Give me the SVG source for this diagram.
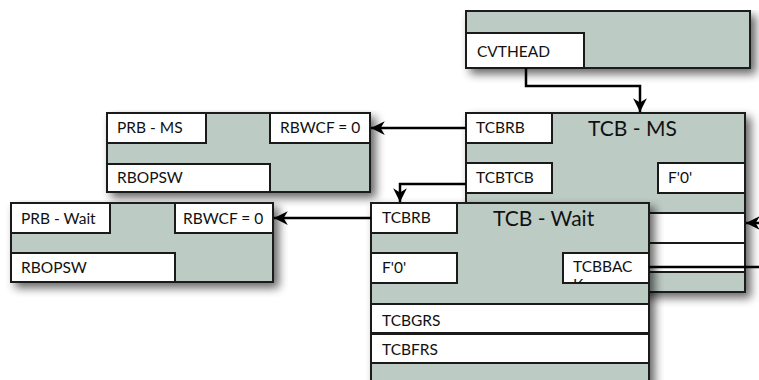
<svg xmlns="http://www.w3.org/2000/svg" width="759" height="380" viewBox="0 0 759 380">
<defs>
  <filter id="sh" x="-10%" y="-10%" width="130%" height="140%">
    <feGaussianBlur in="SourceAlpha" stdDeviation="5"/>
    <feOffset dx="5" dy="5" result="b"/>
    <feComponentTransfer><feFuncA type="linear" slope="0.6"/></feComponentTransfer>
    <feMerge><feMergeNode/><feMergeNode in="SourceGraphic"/></feMerge>
  </filter>
  <marker id="ah" viewBox="0 0 10 10" refX="10" refY="5" markerWidth="5.5" markerHeight="5.5" orient="auto" markerUnits="strokeWidth">
    <path d="M0,0 L10,5 L0,10 L3,5 Z" fill="#000"/>
  </marker>
  <clipPath id="clipBac"><rect x="563" y="253" width="86" height="30"/></clipPath>
  <style>
    .outer{fill:#bdcbc5;stroke:#1a1a1a;stroke-width:2}
    .cell{fill:#ffffff;stroke:#1a1a1a;stroke-width:2}
    .lbl{font-family:"Lato","Open Sans","Liberation Sans",sans-serif;font-size:15.5px;fill:#111}
    .ttl{font-family:"Lato","Open Sans","Liberation Sans",sans-serif;font-size:21px;fill:#111}
    .con{fill:none;stroke:#000;stroke-width:2.5}
  </style>
</defs>
<rect width="759" height="380" fill="#ffffff"/>

<g id="cvthead">
  <rect class="outer" x="466" y="11" width="284" height="57" filter="url(#sh)"/>
  <rect class="cell" x="466" y="33" width="118" height="35"/>
  <text class="lbl" x="477" y="57">CVTHEAD</text>
</g>

<g id="prb-ms">
  <rect class="outer" x="107" y="113" width="263" height="79" filter="url(#sh)"/>
  <rect class="cell" x="107" y="113" width="99" height="30"/>
  <text class="lbl" x="117" y="133">PRB - MS</text>
  <rect class="cell" x="270" y="113" width="100" height="30"/>
  <text class="lbl" x="280" y="133">RBWCF = 0</text>
  <rect class="cell" x="107" y="164" width="163" height="28"/>
  <text class="lbl" x="117" y="183">RBOPSW</text>
</g>

<g id="tcb-ms">
  <rect class="outer" x="466" y="113" width="279" height="179" filter="url(#sh)"/>
  <rect class="cell" x="466" y="113" width="86" height="30"/>
  <text class="lbl" x="476" y="133">TCBRB</text>
  <text class="ttl" x="588" y="136">TCB - MS</text>
  <rect class="cell" x="466" y="163" width="86" height="30"/>
  <text class="lbl" x="476" y="183">TCBTCB</text>
  <rect class="cell" x="658" y="163" width="87" height="30"/>
  <text class="lbl" x="668" y="183">F'0'</text>
  <rect class="cell" x="466" y="213" width="279" height="30"/>
  <rect class="cell" x="466" y="243" width="279" height="29"/>
</g>

<g id="prb-wait">
  <rect class="outer" x="11" y="203" width="262" height="79" filter="url(#sh)"/>
  <rect class="cell" x="11" y="203" width="99" height="30"/>
  <text class="lbl" x="21" y="224">PRB - Wait</text>
  <rect class="cell" x="175" y="203" width="98" height="30"/>
  <text class="lbl" x="183" y="224">RBWCF = 0</text>
  <rect class="cell" x="11" y="253" width="164" height="29"/>
  <text class="lbl" x="21" y="273">RBOPSW</text>
</g>

<g id="tcb-wait">
  <rect class="outer" x="371" y="203" width="278" height="190" filter="url(#sh)"/>
  <rect class="cell" x="371" y="203" width="86" height="30"/>
  <text class="lbl" x="382" y="223">TCBRB</text>
  <text class="ttl" x="493" y="226">TCB - Wait</text>
  <rect class="cell" x="371" y="253" width="86" height="30"/>
  <text class="lbl" x="382" y="273">F'0'</text>
  <rect class="cell" x="563" y="253" width="86" height="30"/>
  <g clip-path="url(#clipBac)">
    <text class="lbl" x="573" y="272">TCBBAC</text>
    <text class="lbl" x="573" y="290">K</text>
  </g>
  <rect class="cell" x="371" y="304" width="278" height="29"/>
  <text class="lbl" x="382" y="326">TCBGRS</text>
  <rect class="cell" x="371" y="334" width="278" height="29"/>
  <text class="lbl" x="382" y="355">TCBFRS</text>
</g>

<g id="connectors">
  <path class="con" d="M526,68 V86 H640 V112" marker-end="url(#ah)"/>
  <path class="con" d="M466,128 H371" marker-end="url(#ah)"/>
  <path class="con" d="M466,184 H400 V202" marker-end="url(#ah)"/>
  <path class="con" d="M371,218 H274" marker-end="url(#ah)"/>
  <path class="con" d="M762,223 H746" marker-end="url(#ah)"/>
  <path class="con" d="M649,267 H762"/>
</g>
</svg>
